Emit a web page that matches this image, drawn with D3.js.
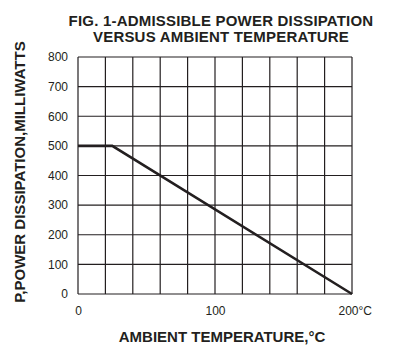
<!DOCTYPE html>
<html><head><meta charset="utf-8">
<script src="https://cdn.jsdelivr.net/npm/d3@7"></script>
<style>body{margin:0;background:#fff}svg{display:block}</style>
</head><body>
<svg id="c" width="394" height="357"></svg>
<script>
const titleLines = ["FIG. 1-ADMISSIBLE POWER DISSIPATION", "VERSUS AMBIENT TEMPERATURE"];
const xLabel = "AMBIENT TEMPERATURE,\u00B0C";
const yLabel = "P,POWER DISSIPATION,MILLIWATTS";
const temps = [0, 25, 200];
const power = [500, 500, 0];
const xTickValues = [0, 100, 200];
const xTickLabels = ["0", "100", "200\u00B0C"];
const yTickValues = [0, 100, 200, 300, 400, 500, 600, 700, 800];
const xGrid = [0, 20, 40, 60, 80, 100, 120, 140, 160, 180, 200];

const svg = d3.select("#c");
const m = {l: 78, r: 352, t: 57, b: 294};
const x = d3.scaleLinear().domain([0, 200]).range([m.l, m.r]);
const y = d3.scaleLinear().domain([0, 800]).range([m.b, m.t]);
const ink = "#231f20";
const font = "Arial, Liberation Sans, sans-serif";

// grid
svg.append("g").selectAll("line").data(xGrid).join("line")
  .attr("x1", d => x(d)).attr("x2", d => x(d)).attr("y1", m.t).attr("y2", m.b)
  .attr("stroke", ink).attr("stroke-width", 1.2);
svg.append("g").selectAll("line").data(yTickValues).join("line")
  .attr("y1", d => y(d)).attr("y2", d => y(d)).attr("x1", m.l).attr("x2", m.r)
  .attr("stroke", ink).attr("stroke-width", 1.2);

// axes labels
const xa = svg.append("g").attr("transform", `translate(0,${m.b})`)
  .call(d3.axisBottom(x).tickValues(xTickValues).tickFormat((d, i) => xTickLabels[i]).tickSize(0).tickPadding(12));
xa.select(".domain").remove();
xa.selectAll("text").attr("font-family", font).attr("font-size", 12).attr("fill", ink);
xa.selectAll(".tick").filter((d, i) => i === xTickLabels.length - 1).select("text")
  .attr("text-anchor", "start").attr("x", -14);

const ya = svg.append("g").attr("transform", `translate(${m.l},0)`)
  .call(d3.axisLeft(y).tickValues(yTickValues).tickSize(0).tickPadding(10));
ya.select(".domain").remove();
ya.selectAll("text").attr("font-family", font).attr("font-size", 12).attr("fill", ink);

// data line
svg.append("path").datum(temps.map((t, i) => [t, power[i]]))
  .attr("d", d3.line().x(d => x(d[0])).y(d => y(d[1])))
  .attr("fill", "none").attr("stroke", ink).attr("stroke-width", 2.6);

// title
svg.append("g").selectAll("text").data(titleLines).join("text")
  .attr("x", 221).attr("y", (d, i) => 26 + i * 15.5)
  .attr("text-anchor", "middle").attr("font-family", font)
  .attr("font-weight", "bold").attr("font-size", 15).attr("letter-spacing", 0.2)
  .attr("fill", ink).text(d => d);

svg.append("text").attr("x", 222).attr("y", 342).attr("text-anchor", "middle")
  .attr("font-family", font).attr("font-weight", "bold")
  .attr("font-size", 15).attr("fill", ink).text(xLabel);

svg.append("text").attr("transform", "translate(25,172) rotate(-90)").attr("text-anchor", "middle")
  .attr("font-family", font).attr("font-weight", "bold")
  .attr("font-size", 15).attr("fill", ink).text(yLabel);
</script>
</body></html>
